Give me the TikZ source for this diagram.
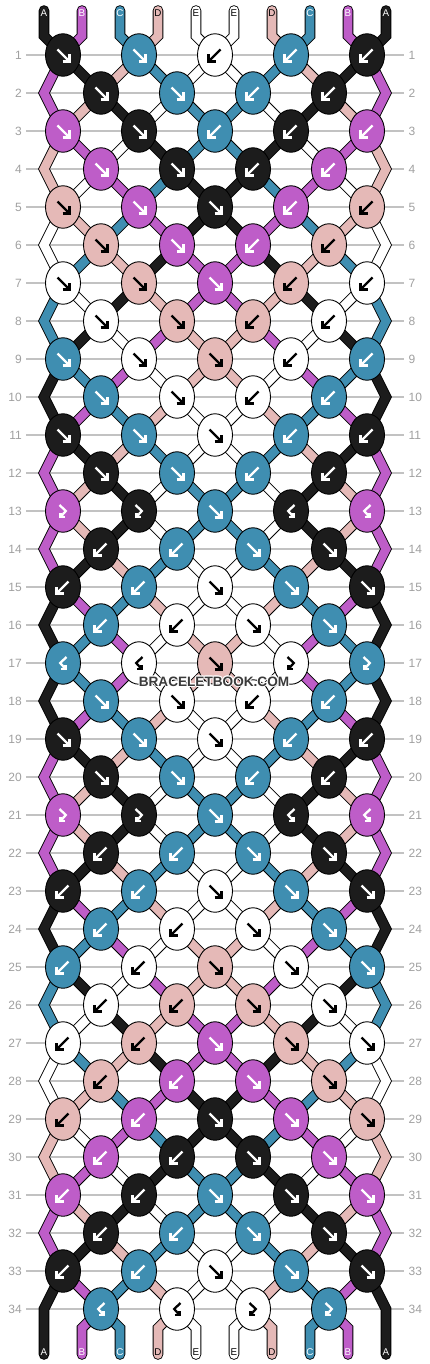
\documentclass[tikz,border=0pt]{standalone}
\usepackage{fontspec}
\setmainfont{Liberation Sans}
\usetikzlibrary{shapes.geometric}
\definecolor{colA}{HTML}{1C1C1C}
\definecolor{colB}{HTML}{BE5DC8}
\definecolor{colC}{HTML}{3F8EB1}
\definecolor{colD}{HTML}{E5B9B7}
\definecolor{colE}{HTML}{FFFFFF}
\colorlet{arrA}{white}
\colorlet{arrB}{white}
\colorlet{arrC}{white}
\colorlet{arrD}{black}
\colorlet{arrE}{black}
\definecolor{gridgray}{HTML}{C2C2C2}
\definecolor{numgray}{HTML}{A0A0A0}
\definecolor{wmgray}{HTML}{3A3A3A}
\tikzset{
  strand/.style={draw=black, line width=0.9pt, double distance=8.8pt, line cap=round, line join=miter},
  knot/.style={ellipse, draw=black, line width=0.9pt, minimum width=35pt, minimum height=42.5pt, inner sep=0pt},
  glyphline/.style={line width=2.3pt, line cap=butt, line join=miter},
  rownum/.style={text=numgray, font=\fontsize{12}{12}\selectfont, inner sep=0pt},
  toplabel/.style={font=\fontsize{9.8}{9.8}\selectfont, inner sep=0pt},
  gridline/.style={draw=gridgray, line width=1.2pt},
  wmtext/.style={font=\fontsize{13.6}{13.6}\selectfont\bfseries, inner sep=0pt},
}
% knot glyphs (image coordinates, y downwards)
\newcommand\gF[1]{\draw[glyphline,draw=#1] (-5.5,-5.5) -- (5.8,5.8); \draw[glyphline,draw=#1] (-0.5,6.5) -- (6.5,6.5) -- (6.5,-0.5);}
\newcommand\gB[1]{\draw[glyphline,draw=#1] (5.5,-5.5) -- (-5.8,5.8); \draw[glyphline,draw=#1] (0.5,6.5) -- (-6.5,6.5) -- (-6.5,-0.5);}
\newcommand\gFB[1]{\draw[glyphline,draw=#1] (-3.5,-6) -- (2.8,0) -- (-2.2,5.6); \draw[glyphline,draw=#1] (2.2,6.3) -- (-2.6,6.3) -- (-2.6,1.5);}
\newcommand\gBF[1]{\draw[glyphline,draw=#1] (3.5,-6) -- (-2.8,0) -- (2.2,5.6); \draw[glyphline,draw=#1] (-2.2,6.3) -- (2.6,6.3) -- (2.6,1.5);}
\def\mirF{B}\def\mirB{F}\def\mirFB{BF}\def\mirBF{FB}
\newcommand\knotat[4]{%
  \node[knot, fill=col#3] (k-#1-#2) at (p-#1-#2) {};
  \begin{scope}[shift={(p-#1-#2)}]\csname g#4\endcsname{arr#3}\end{scope}%
}
\newcommand\drawstrand[4]{% side, start position, colour letter, positions per row
  \gdef\strpath{}%
  \foreach \pp [count=\rr] in {#4}{%
    \pgfmathtruncatemacro\cc{(mod(\rr,2)==1) ? 2*floor(\pp/2) : 2*floor((\pp-1)/2)+1}%
    \ifnum#1=1 \pgfmathtruncatemacro\cc{8-\cc}\fi
    \xdef\strpath{\strpath -- (p-\rr-\cc)}%
  }%
  \pgfmathtruncatemacro\spos{#1==1 ? 9-#2 : #2}%
  \draw[strand, double=col#3] (t0-\spos) -- (t1-\spos) \strpath -- (b1-\spos) -- (b0-\spos);
}
\begin{document}
\begin{tikzpicture}[x=1pt,y=-1pt]
\fill[white] (0,0) rectangle (430,1364);
\useasboundingbox (0,0) rectangle (430,1364);
% coordinates of knots and edges
\foreach \r in {1,...,34}{
  \foreach \c in {0,...,8}{\coordinate (p-\r-\c) at ({63+38*\c},{17+38*\r});}
  \coordinate (p-\r--1) at (44,{17+38*\r});
  \coordinate (p-\r-9) at (386,{17+38*\r});
  \draw[gridline] (26,{17+38*\r}) -- (404,{17+38*\r});
  \node[rownum, anchor=east] (nl-\r) at (22,{17+38*\r}) {\r};
  \node[rownum, anchor=west] (nr-\r) at (408.5,{17+38*\r}) {\r};
}
\foreach \p in {0,...,9}{
  \coordinate (t0-\p) at ({44+38*\p},10.5);
  \coordinate (t1-\p) at ({44+38*\p},36);
  \coordinate (b1-\p) at ({44+38*\p},1328);
  \coordinate (b0-\p) at ({44+38*\p},1354.5);
}
% strands
\foreach \s in {0,1}{
  \drawstrand{\s}{0}{A}{1,2,3,4,4,3,2,1,0,0,1,2,2,1,0,0,0,0,1,2,2,1,0,0,1,2,3,4,4,3,2,1,0,0}
  \drawstrand{\s}{1}{B}{0,0,1,2,3,4,4,3,2,1,0,0,0,0,1,2,2,1,0,0,0,0,1,2,3,4,4,3,2,1,0,0,1,1}
  \drawstrand{\s}{2}{C}{3,4,4,3,2,1,0,0,1,2,3,4,4,3,2,1,1,2,3,4,4,3,2,1,0,0,1,2,3,4,4,3,2,2}
  \drawstrand{\s}{3}{D}{2,1,0,0,1,2,3,4,4,3,2,1,1,2,3,4,4,3,2,1,1,2,3,4,4,3,2,1,0,0,1,2,3,3}
  \drawstrand{\s}{4}{E}{4,3,2,1,0,0,1,2,3,4,4,3,3,4,4,3,3,4,4,3,3,4,4,3,2,1,0,0,1,2,3,4,4,4}
}
% knots
\foreach \kr/\kc/\kk/\kt in {
1/0/A/F, 1/2/C/F, 1/4/E/B,
2/1/A/F, 2/3/C/F,
3/0/B/F, 3/2/A/F, 3/4/C/B,
4/1/B/F, 4/3/A/F,
5/0/D/F, 5/2/B/F, 5/4/A/F,
6/1/D/F, 6/3/B/F,
7/0/E/F, 7/2/D/F, 7/4/B/F,
8/1/E/F, 8/3/D/F,
9/0/C/F, 9/2/E/F, 9/4/D/F,
10/1/C/F, 10/3/E/F,
11/0/A/F, 11/2/C/F, 11/4/E/F,
12/1/A/F, 12/3/C/F,
13/0/B/FB, 13/2/A/FB, 13/4/C/F,
14/1/A/B, 14/3/C/B,
15/0/A/B, 15/2/C/B, 15/4/E/F,
16/1/C/B, 16/3/E/B,
17/0/C/BF, 17/2/E/BF, 17/4/D/F,
18/1/C/F, 18/3/E/F,
19/0/A/F, 19/2/C/F, 19/4/E/F,
20/1/A/F, 20/3/C/F,
21/0/B/FB, 21/2/A/FB, 21/4/C/F,
22/1/A/B, 22/3/C/B,
23/0/A/B, 23/2/C/B, 23/4/E/F,
24/1/C/B, 24/3/E/B,
25/0/C/B, 25/2/E/B, 25/4/D/F,
26/1/E/B, 26/3/D/B,
27/0/E/B, 27/2/D/B, 27/4/B/F,
28/1/D/B, 28/3/B/B,
29/0/D/B, 29/2/B/B, 29/4/A/F,
30/1/B/B, 30/3/A/B,
31/0/B/B, 31/2/A/B, 31/4/C/F,
32/1/A/B, 32/3/C/B,
33/0/A/B, 33/2/C/B, 33/4/E/F,
34/1/C/BF, 34/3/E/BF}{
  \knotat{\kr}{\kc}{\kk}{\kt}
  \ifnum\kc<4
    \pgfmathtruncatemacro\mc{8-\kc}
    \edef\mt{\csname mir\kt\endcsname}
    \knotat{\kr}{\mc}{\kk}{\mt}
  \fi
}
% string labels
\foreach \L [count=\i from 0] in {A,B,C,D,E,E,D,C,B,A}{
  \node[toplabel, text=arr\L] (lt-\i) at ({44+38*\i},12.7) {\L};
  \node[toplabel, text=arr\L] (lb-\i) at ({44+38*\i},1352) {\L};
}
% watermark
\foreach \dx/\dy [count=\h] in {-1/0,1/0,0/-1,0/1,-0.7/-0.7,0.7/0.7,-0.7/0.7,0.7/-0.7}{
  \node[wmtext, text=white] (wmh-\h) at ({214+\dx},{681.5+\dy}) {BRACELETBOOK.COM};
}
\node[wmtext, text=wmgray] (wm) at (214,681.5) {BRACELETBOOK.COM};
\end{tikzpicture}
\end{document}
